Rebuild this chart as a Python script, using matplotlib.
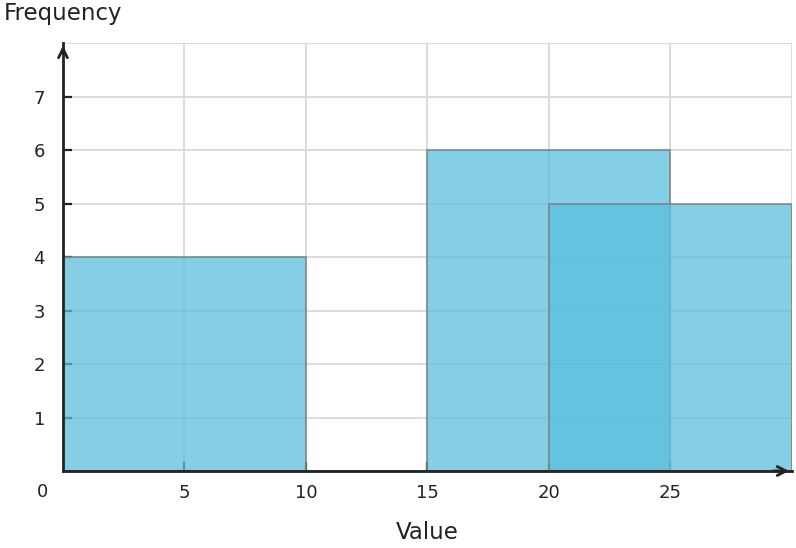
import matplotlib
matplotlib.use("Agg")
import matplotlib.pyplot as plt

# histogram-ish bins (left edge, width, count)
bin_left = [0, 10, 15, 20]
bin_width = [10, 5, 10, 10]
counts = [4, 0, 6, 5]

x_ticks = [5, 10, 15, 20, 25]
y_ticks = [1, 2, 3, 4, 5, 6, 7]

fig = plt.figure(figsize=(7.96, 5.48), dpi=100)
ax = fig.add_axes([0.0791, 0.1405, 0.9158, 0.781])

ax.bar(bin_left, counts, width=bin_width, align="edge",
       color="#5bc0de", alpha=0.75, edgecolor="#808080", linewidth=1.5, zorder=2)

ax.set_xlim(0, 30)
ax.set_ylim(0, 8)
ax.set_xticks(x_ticks)
ax.set_yticks(y_ticks)
ax.set_axisbelow(True)
ax.grid(True, color="#d9d9d9", linewidth=1.3, zorder=0)
ax.set_xticks([30], minor=True)
ax.set_yticks([8], minor=True)
ax.grid(True, which="minor", color="#d9d9d9", linewidth=1.3, zorder=0)

for side in ["top", "right"]:
    ax.spines[side].set_visible(False)
for side in ["left", "bottom"]:
    ax.spines[side].set_color("#222222")
    ax.spines[side].set_linewidth(2)
    ax.spines[side].set_zorder(3)

ax.tick_params(axis="both", which="major", direction="in", length=6.5, width=1.6,
               color="#222222", labelsize=13, labelcolor="#222222")
ax.tick_params(axis="x", which="major", pad=9)
ax.tick_params(axis="y", which="major", pad=13)
ax.tick_params(which="minor", length=0)

# arrow heads on the axes
ax.annotate("", xy=(0, 1.0), xytext=(0, 0.97), xycoords="axes fraction",
            arrowprops=dict(arrowstyle="->", color="#222222", lw=2,
                            mutation_scale=16), annotation_clip=False)
ax.annotate("", xy=(1.0, 0), xytext=(0.97, 0), xycoords="axes fraction",
            arrowprops=dict(arrowstyle="->", color="#222222", lw=2,
                            mutation_scale=16), annotation_clip=False)

# the lone origin label sits off the corner
ax.annotate("0", xy=(0, 0), xytext=(-15, -15), textcoords="offset points",
            fontsize=13, color="#222222", ha="center", va="center",
            annotation_clip=False)

ax.set_xlabel("Value", fontsize=16.5, color="#222222", labelpad=14)
fig.text(0.005, 0.975, "Frequency", fontsize=16.5, color="#222222",
         ha="left", va="center")

fig.savefig("out.png", dpi=100)
